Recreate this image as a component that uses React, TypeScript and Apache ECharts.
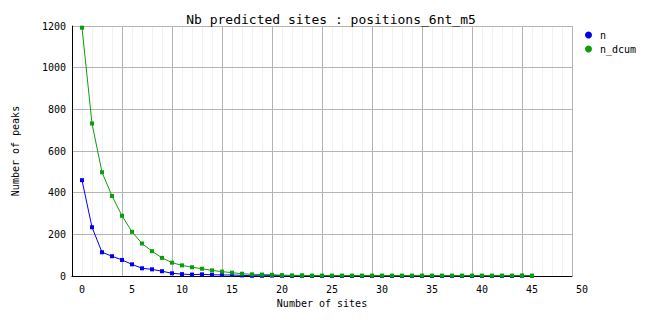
import React, { useEffect, useRef } from "react";
import * as echarts from "echarts";

const titleText = "Nb predicted sites : positions_6nt_m5";
const xName = "Number of sites";
const yName = "Number of peaks";
const seriesNames = ["n", "n_dcum"];

// number of sites (0..45)
const sites = [
  0, 1, 2, 3, 4, 5, 6, 7, 8, 9, 10, 11, 12, 13, 14, 15, 16, 17, 18, 19, 20, 21, 22,
  23, 24, 25, 26, 27, 28, 29, 30, 31, 32, 33, 34, 35, 36, 37, 38, 39, 40, 41, 42, 43, 44, 45,
];
const nValues = [
  460, 234, 114, 95, 77, 56, 37, 32, 23, 13, 9, 7, 8, 6, 5, 5, 3, 1, 1, 2, 1, 0, 1,
  0, 0, 0, 0, 0, 0, 0, 0, 0, 0, 0, 0, 0, 0, 0, 0, 0, 0, 0, 0, 0, 1, 1,
];
const nDcumValues = [
  1192, 732, 498, 384, 289, 212, 156, 119, 87, 64, 51, 42, 35, 27, 21, 16, 11, 8, 7, 6, 4, 3, 3,
  2, 2, 2, 2, 2, 2, 2, 2, 2, 2, 2, 2, 2, 2, 2, 2, 2, 2, 2, 2, 2, 2, 1,
];
const xExtraLabel = 50;

const MONO = "'DejaVu Sans Mono', 'Liberation Mono', monospace";
const BLUE = "#0000f0";
const GREEN = "#0a9e0a";

export default function App() {
  const ref = useRef<HTMLDivElement>(null);

  useEffect(() => {
    document.body.style.margin = "0";
    if (!ref.current) return;
    const chart = echarts.init(ref.current, undefined, { renderer: "svg" });
    const pairs = (vals: number[]) => sites.map((s, i) => [s, vals[i]]);
    const noLabel = { show: false };
    chart.setOption({
      animation: false,
      backgroundColor: "#ffffff",
      title: {
        text: titleText,
        left: "center",
        top: 8,
        textStyle: { fontFamily: MONO, fontSize: 13, fontWeight: "normal", color: "#000" },
      },
      legend: {
        orient: "vertical",
        left: 580,
        top: 25,
        itemWidth: 7,
        itemHeight: 7,
        itemGap: 4,
        icon: "circle",
        textStyle: { fontFamily: MONO, fontSize: 10, color: "#000", padding: [0, 0, 0, 3] },
        data: [
          { name: seriesNames[0], itemStyle: { color: BLUE } },
          { name: seriesNames[1], itemStyle: { color: GREEN } },
        ],
      },
      grid: [
        { left: 72, top: 26, width: 500, height: 250, containLabel: false },
        { left: 72, top: 26, width: 510, height: 250, containLabel: false },
      ],
      xAxis: [
        {
          type: "value",
          gridIndex: 0,
          min: -1,
          max: 49,
          interval: 1,
          name: xName,
          nameLocation: "middle",
          nameGap: 22,
          nameTextStyle: { fontFamily: MONO, fontSize: 10, color: "#000" },
          axisLine: { show: true, onZero: false, lineStyle: { color: "#000", width: 1 } },
          axisTick: { show: false },
          axisLabel: {
            fontFamily: MONO,
            fontSize: 10,
            color: "#000",
            margin: 8,
            formatter: (v: number) => (v >= 0 && v % 5 === 0 ? String(v) : ""),
          },
          splitLine: {
            show: true,
            showMinLine: false,
            showMaxLine: false,
            lineStyle: { color: "#f2f2f2", width: 1 },
          },
          z: 0,
        },
        {
          type: "value",
          gridIndex: 1,
          min: -1,
          max: 50,
          interval: 1,
          axisLine: { show: false },
          axisTick: { show: false },
          splitLine: { show: false },
          axisLabel: {
            fontFamily: MONO,
            fontSize: 10,
            color: "#000",
            margin: 8,
            formatter: (v: number) => (v === xExtraLabel ? String(v) : ""),
          },
        },
        {
          type: "value",
          gridIndex: 0,
          position: "bottom",
          min: -1,
          max: 49,
          interval: 5,
          axisLine: { show: false },
          axisTick: { show: false },
          axisLabel: noLabel,
          splitLine: {
            show: true,
            showMinLine: false,
            showMaxLine: true,
            lineStyle: { color: "#b4b4b4", width: 1 },
          },
          z: 1,
        },
      ],
      yAxis: [
        {
          type: "value",
          gridIndex: 0,
          min: 0,
          max: 1200,
          interval: 200,
          name: yName,
          nameLocation: "middle",
          nameRotate: 90,
          nameGap: 52,
          nameTextStyle: { fontFamily: MONO, fontSize: 10, color: "#000" },
          axisLine: { show: true, onZero: false, lineStyle: { color: "#000", width: 1 } },
          axisTick: { show: false },
          axisLabel: {
            fontFamily: MONO,
            fontSize: 10,
            color: "#000",
            margin: 6,
            formatter: (v: number) => String(v),
          },
          splitLine: {
            show: true,
            showMinLine: false,
            showMaxLine: true,
            lineStyle: { color: "#b4b4b4", width: 1 },
          },
          z: 2,
        },
        {
          type: "value",
          gridIndex: 1,
          min: 0,
          max: 1200,
          show: false,
        },
      ],
      series: [
        {
          name: seriesNames[0],
          type: "line",
          xAxisIndex: 0,
          yAxisIndex: 0,
          data: pairs(nValues),
          symbol: "rect",
          symbolSize: 4,
          showAllSymbol: true,
          color: BLUE,
          lineStyle: { color: BLUE, width: 1 },
          itemStyle: { color: BLUE },
          z: 3,
        },
        {
          name: seriesNames[1],
          type: "line",
          xAxisIndex: 0,
          yAxisIndex: 0,
          data: pairs(nDcumValues),
          symbol: "rect",
          symbolSize: 4,
          showAllSymbol: true,
          color: GREEN,
          lineStyle: { color: GREEN, width: 1 },
          itemStyle: { color: GREEN },
          z: 4,
        },
      ],
    });
    return () => chart.dispose();
  }, []);

  return <div ref={ref} style={{ width: 662, height: 328 }} />;
}
